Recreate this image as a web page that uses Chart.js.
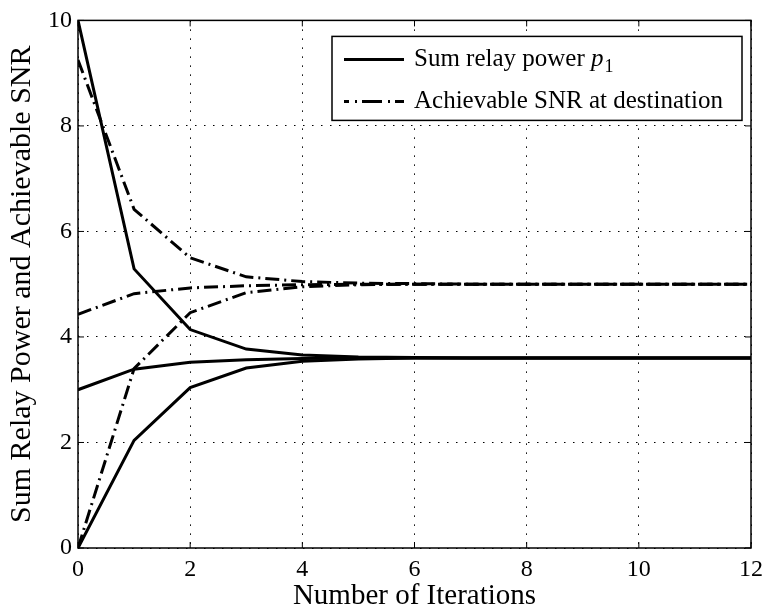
<!DOCTYPE html>
<html>
<head>
<meta charset="utf-8">
<script src="https://cdn.jsdelivr.net/npm/chart.js@4.4.1/dist/chart.umd.min.js"></script>
<style>
  html, body { margin: 0; padding: 0; background: #fff; }
  #wrap { width: 770px; height: 611px; position: relative; }
</style>
</head>
<body>
<div id="wrap"><canvas id="c"></canvas></div>
<script>
// Iteration index
const iterations = [0, 1, 2, 3, 4, 5, 6, 7, 8, 9, 10, 11, 12];

// Sum relay power p1 for three initial points
const powerFromHigh = [10, 5.29, 4.14, 3.77, 3.66, 3.62, 3.61, 3.6, 3.6, 3.6, 3.6, 3.6, 3.6];
const powerFromMid  = [3, 3.39, 3.52, 3.57, 3.59, 3.6, 3.6, 3.6, 3.6, 3.6, 3.6, 3.6, 3.6];
const powerFromZero = [0, 2.04, 3.04, 3.41, 3.54, 3.58, 3.6, 3.6, 3.6, 3.6, 3.6, 3.6, 3.6];

// Achievable SNR at destination for the same three runs
const snrFromHigh = [9.25, 6.42, 5.5, 5.14, 5.05, 5.02, 5.01, 5, 5, 5, 5, 5, 5];
const snrFromMid  = [4.43, 4.82, 4.93, 4.97, 4.99, 5, 5, 5, 5, 5, 5, 5, 5];
const snrFromZero = [0, 3.4, 4.46, 4.84, 4.95, 4.99, 5, 5, 5, 5, 5, 5, 5];

// Axis ticks
const xTicks = [0, 2, 4, 6, 8, 10, 12];
const yTicks = [0, 2, 4, 6, 8, 10];

const SERIF = '"Liberation Serif", "Times New Roman", serif';
const DASH_DOT = [14, 5, 2, 5];

function series(values, dashed) {
  return {
    data: iterations.map((x, i) => ({ x: x, y: values[i] })),
    borderColor: '#000',
    borderWidth: 3,
    borderDash: dashed ? DASH_DOT : [],
    pointRadius: 0,
    tension: 0,
    fill: false,
    borderCapStyle: 'butt',
    borderJoinStyle: 'miter'
  };
}

// Frame with inward tick marks around the plotting area
const framePlugin = {
  id: 'frame',
  afterDatasetsDraw(chart) {
    const { ctx, chartArea: a, scales } = chart;
    ctx.save();
    ctx.strokeStyle = '#000';
    ctx.lineWidth = 1.5;
    ctx.strokeRect(a.left, a.top, a.right - a.left, a.bottom - a.top);
    ctx.lineWidth = 1;
    const len = 6;
    ctx.beginPath();
    xTicks.forEach(v => {
      const px = scales.x.getPixelForValue(v);
      ctx.moveTo(px, a.bottom); ctx.lineTo(px, a.bottom - len);
      ctx.moveTo(px, a.top); ctx.lineTo(px, a.top + len);
    });
    yTicks.forEach(v => {
      const py = scales.y.getPixelForValue(v);
      ctx.moveTo(a.left, py); ctx.lineTo(a.left + len, py);
      ctx.moveTo(a.right, py); ctx.lineTo(a.right - len, py);
    });
    ctx.stroke();
    ctx.restore();
  }
};

// Boxed legend in the upper right corner of the plot
const legendPlugin = {
  id: 'boxLegend',
  afterDraw(chart) {
    const { ctx, chartArea: a } = chart;
    const w = 410, h = 84;
    const x0 = a.right - 9 - w, y0 = a.top + 16;
    ctx.save();
    ctx.fillStyle = '#fff';
    ctx.fillRect(x0, y0, w, h);
    ctx.strokeStyle = '#000';
    ctx.lineWidth = 1.5;
    ctx.strokeRect(x0, y0, w, h);

    const lineX1 = x0 + 12, lineX2 = x0 + 72, textX = x0 + 82;
    const row1 = y0 + 23, row2 = y0 + 65;

    ctx.lineWidth = 3;
    ctx.beginPath();
    ctx.setLineDash([]);
    ctx.moveTo(lineX1, row1); ctx.lineTo(lineX2, row1);
    ctx.stroke();
    ctx.beginPath();
    ctx.setLineDash([20, 6, 2, 5]);
    ctx.lineDashOffset = 15;
    ctx.moveTo(lineX1, row2); ctx.lineTo(lineX2, row2);
    ctx.stroke();
    ctx.setLineDash([]);

    ctx.fillStyle = '#000';
    ctx.textBaseline = 'middle';
    ctx.textAlign = 'left';
    ctx.font = '25px ' + SERIF;
    const main = 'Sum relay power ';
    ctx.fillText(main, textX, row1);
    let px = textX + ctx.measureText(main).width;
    ctx.font = 'italic 25px ' + SERIF;
    ctx.fillText('p', px, row1);
    px += ctx.measureText('p').width + 1;
    ctx.font = '18px ' + SERIF;
    ctx.fillText('1', px, row1 + 8);

    ctx.font = '25px ' + SERIF;
    ctx.fillText('Achievable SNR at destination', textX, row2);
    ctx.restore();
  }
};

new Chart(document.getElementById('c'), {
  type: 'line',
  data: {
    datasets: [
      series(powerFromHigh, false),
      series(powerFromMid, false),
      series(powerFromZero, false),
      series(snrFromHigh, true),
      series(snrFromMid, true),
      series(snrFromZero, true)
    ]
  },
  options: {
    responsive: true,
    maintainAspectRatio: false,
    animation: false,
    layout: { padding: { top: 17, right: 16, left: 0, bottom: 0 } },
    plugins: { legend: { display: false }, tooltip: { enabled: false } },
    scales: {
      x: {
        type: 'linear',
        min: 0, max: 12,
        afterBuildTicks(scale) { scale.ticks = xTicks.map(v => ({ value: v })); },
        afterFit(scale) { scale.height = 63; },
        grid: { color: '#000', lineWidth: 1, drawTicks: false },
        border: { display: false, dash: [1.5, 7.5] },
        ticks: { color: '#000', padding: 7, font: { family: SERIF, size: 24 }, maxRotation: 0 },
        title: {
          display: true, text: 'Number of Iterations', color: '#000',
          font: { family: SERIF, size: 29, lineHeight: 1 }, padding: { top: 0, bottom: 0 }
        }
      },
      y: {
        type: 'linear',
        min: 0, max: 10,
        afterBuildTicks(scale) { scale.ticks = yTicks.map(v => ({ value: v })); },
        afterFit(scale) { scale.width = 78; },
        grid: { color: '#000', lineWidth: 1, drawTicks: false },
        border: { display: false, dash: [1.5, 7.5] },
        ticks: { color: '#000', padding: 6, font: { family: SERIF, size: 24 } },
        title: {
          display: true, text: 'Sum Relay Power and Achievable SNR', color: '#000',
          font: { family: SERIF, size: 30, lineHeight: 1 }, padding: { top: 7, bottom: 0 }
        }
      }
    }
  },
  plugins: [framePlugin, legendPlugin]
});
</script>
</body>
</html>
